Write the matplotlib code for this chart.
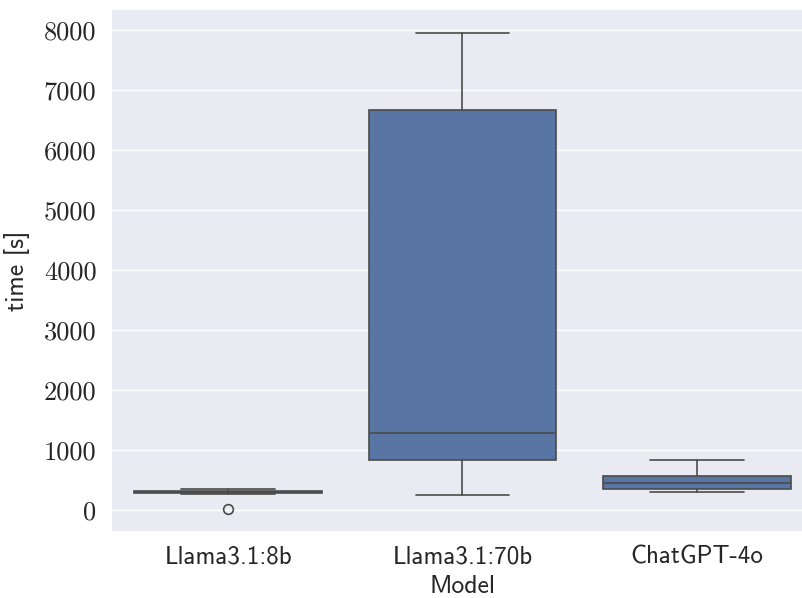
import matplotlib
matplotlib.use("Agg")
import matplotlib.pyplot as plt
import seaborn as sns

# Data, time in seconds
models = ["Llama3.1:8b", "Llama3.1:70b", "ChatGPT-4o"]
whisker_low = [270, 250, 305]
q1 = [285, 833, 350]
median = [300, 1278, 455]
q3 = [310, 6663, 567]
whisker_high = [340, 7953, 833]
outliers = [[20], [], []]
yticks = [0, 1000, 2000, 3000, 4000, 5000, 6000, 7000, 8000]

sns.set_theme(style="darkgrid")
plt.rcParams["axes.unicode_minus"] = False

fig = plt.figure(figsize=(8.03, 5.98), dpi=100)
ax = fig.add_axes([111 / 803, (598 - 532) / 598, 703 / 803, 523 / 598])

face = sns.desaturate("#4c72b0", 0.75)
line = (0.296, 0.296, 0.296)

stats = []
for i, name in enumerate(models):
    stats.append(dict(label=name, whislo=whisker_low[i], q1=q1[i], med=median[i],
                      q3=q3[i], whishi=whisker_high[i], fliers=outliers[i]))

ax.bxp(stats, positions=range(len(models)), widths=0.8, patch_artist=True,
       boxprops=dict(facecolor=face, edgecolor=line, linewidth=1.2),
       medianprops=dict(color=line, linewidth=1.2),
       whiskerprops=dict(color=line, linewidth=1.2),
       capprops=dict(color=line, linewidth=1.2),
       flierprops=dict(marker="o", markerfacecolor="none", markeredgecolor=line,
                       markersize=7, markeredgewidth=1.2),
       capwidths=0.4)

ax.set_xlim(-0.5, 2.5)
ax.set_ylim(-370, 8350)
ax.xaxis.grid(False)
ax.set_yticks(yticks)
ax.set_yticklabels([str(v) for v in yticks], family="cmr10", fontsize=19)
ax.set_xticks(range(len(models)))
ax.set_xticklabels(models, family="cmss10", fontsize=18)
ax.tick_params(axis="y", pad=4.5)
ax.tick_params(axis="x", pad=3.5)
ax.set_xlabel("Model", family="cmss10", fontsize=18.5, labelpad=5)
ax.set_ylabel("time [s]", family="cmss10", fontsize=18.5, labelpad=10)

fig.savefig("out.png", dpi=100)
